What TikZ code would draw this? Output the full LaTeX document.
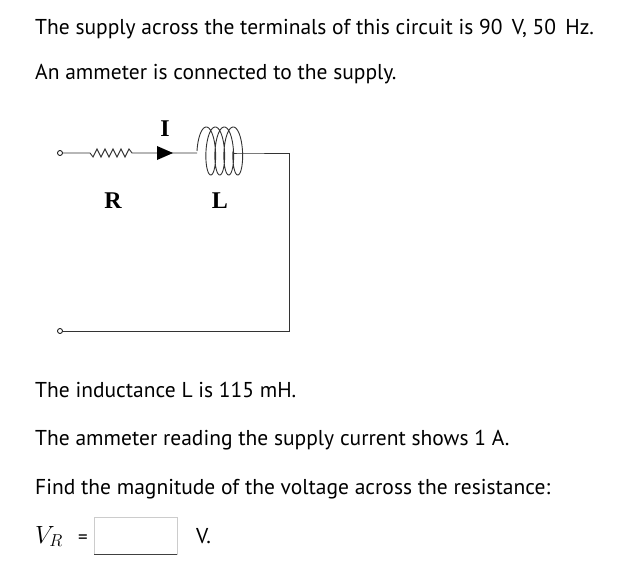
\documentclass[tikz,border=0pt]{standalone}
\usepackage{fontspec}
\setmainfont{PT Sans}
\newfontfamily\serifb{Liberation Serif}
\begin{document}
\begin{tikzpicture}[x=1pt,y=1pt,
  txt/.style={anchor=base west,inner sep=0,font=\fontsize{21.5}{24}\selectfont},
  lbl/.style={inner sep=0,font=\serifb\bfseries\fontsize{24}{26}\selectfont},
  wire/.style={line width=0.9pt,black!80},
  term/.style={circle,draw,line width=0.8pt,inner sep=0,minimum size=5pt,fill=white}]
\useasboundingbox (0,0) rectangle (631,566);
\node[txt] (t1) at (35,531) {The supply across the terminals of this circuit is 90 \,V, 50 \,Hz.};
\node[txt] (t2) at (35,486) {An ammeter is connected to the supply.};
\node[txt] (t3) at (35,169) {The inductance L is 115 mH.};
\node[txt] (t4) at (35,121) {The ammeter reading the supply current shows 1 A.};
\node[txt] (t5) at (35,72) {Find the magnitude of the voltage across the resistance:};
% circuit
\node[term] (a) at (60,413) {};
\node[term] (b) at (60,235) {};
\coordinate (r1) at (90,413);
\coordinate (r2) at (137,413);
\coordinate (c1) at (190,413);
\coordinate (c2) at (240,413);
\coordinate (tr) at (289,413);
\coordinate (br) at (289,235);
\draw[wire] (a) -- (r1) -- ++(3,-4) -- ++(4,8) -- ++(4,-8) -- ++(4,8) -- ++(4,-8) -- ++(4,8) -- ++(4,-8) -- ++(4,8) -- ++(4,-8) -- ++(4,8) -- ++(3,-4) -- (r2) -- (c1) -- (197,413);
\draw[wire,domain=0:1440,samples=300,smooth] plot ({204+\x/40-7*cos(\x)},{415+24*sin(\x)});
\draw[wire] (233,413) -- (c2) -- (tr) -- (br) -- (b);
\fill (157,420) -- (173,413) -- (157,406) -- cycle;
\node[lbl] (I) at (165,437) {I};
\node[lbl] (R) at (113,365) {R};
\node[lbl] (L) at (220,365) {L};
% answer
\node[anchor=base west,inner sep=0,font=\fontsize{24}{26}\selectfont] (vr) at (35,23) {$V_R$};
\node[anchor=base west,inner sep=0,font=\fontsize{19}{22}\selectfont] (eq) at (78,23) {=};
\draw[gray!40,line width=0.8pt] (94,49) rectangle (177,12);
\draw[black!75,line width=1pt] (94,12) -- (177,12);
\node[txt] (v) at (196,23) {V.};
\end{tikzpicture}
\end{document}
